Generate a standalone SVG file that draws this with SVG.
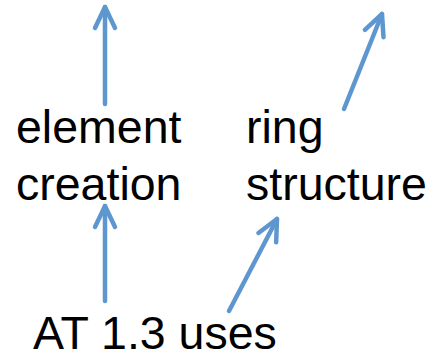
<svg xmlns="http://www.w3.org/2000/svg" width="436" height="355" viewBox="0 0 436 355">
<defs>
<style>
.t{font-family:"Liberation Sans",Arial,sans-serif;font-size:46.5px;fill:#000}
.a{stroke:#5E97CF;stroke-width:4.5;fill:none;stroke-linecap:round;stroke-linejoin:round}
</style>
<marker id="h" markerUnits="userSpaceOnUse" markerWidth="40" markerHeight="40" viewBox="-30 -20 40 40" refX="0" refY="0" orient="auto">
<path d="M -21 -10 L 0 0 L -21 10" fill="none" stroke="#5E97CF" stroke-width="4.5" stroke-linecap="round" stroke-linejoin="round"/>
</marker>
</defs>
<rect width="436" height="355" fill="#fff"/>
<g id="connectors">
<path class="a" d="M105 104 L105 7" marker-end="url(#h)"/>
<path class="a" d="M344 109 L382 14" marker-end="url(#h)"/>
<path class="a" d="M105 301 L105 206" marker-end="url(#h)"/>
<path class="a" d="M229 311 L277 219" marker-end="url(#h)"/>
</g>
<g id="element-creation">
<text class="t" x="16" y="143">element</text>
<text class="t" x="16" y="200">creation</text>
</g>
<g id="ring-structure">
<text class="t" x="246" y="143">ring</text>
<text class="t" x="246" y="200">structure</text>
</g>
<g id="at-uses">
<text class="t" x="33" y="349">AT 1.3 uses</text>
</g>
</svg>
